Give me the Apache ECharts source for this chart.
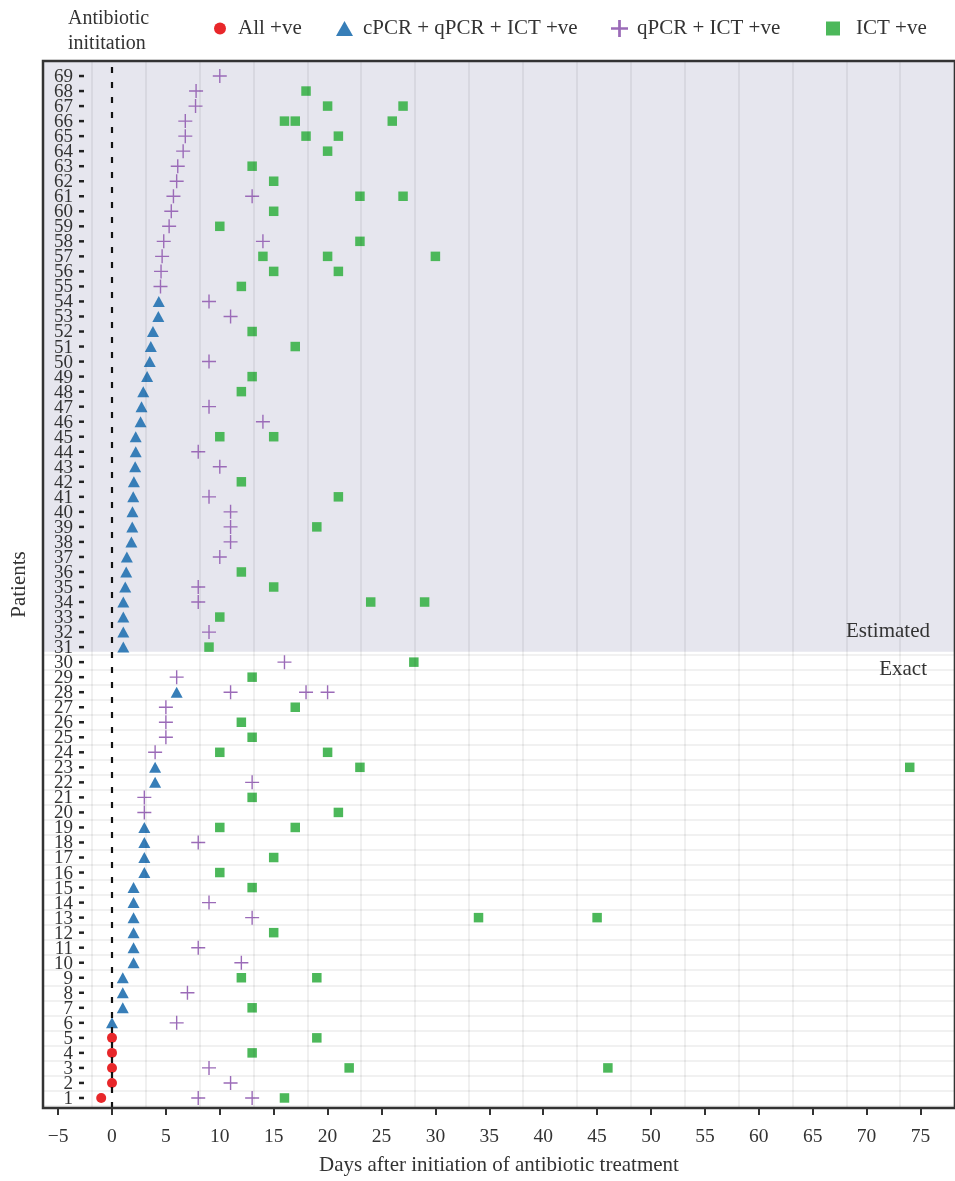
<!DOCTYPE html>
<html><head><meta charset="utf-8">
<script src="https://cdn.jsdelivr.net/npm/echarts@6/dist/echarts.min.js"></script>
<style>html,body{margin:0;padding:0;background:#fff}#c{width:955px;height:1181px}</style>
</head><body><div id="c"></div>
<script>
// ---------- data ----------
const patients = ['1','2','3','4','5','6','7','8','9','10','11','12','13','14','15','16','17','18','19','20',
  '21','22','23','24','25','26','27','28','29','30','31','32','33','34','35','36','37','38','39','40',
  '41','42','43','44','45','46','47','48','49','50','51','52','53','54','55','56','57','58','59','60',
  '61','62','63','64','65','66','67','68','69'];
const xTicks = [-5,0,5,10,15,20,25,30,35,40,45,50,55,60,65,70,75];
const antibioticStart = 0;
const estimatedFrom = 31;            // patients 31..69 have estimated dates
const groupLabels = ['Exact', 'Estimated'];
const seriesNames = ['All +ve', 'cPCR + qPCR + ICT +ve', 'qPCR + ICT +ve', 'ICT +ve'];

// [patient, day]
const allPositive = [[1,-1],[2,0],[3,0],[4,0],[5,0]];
const cpcrQpcrIct = [[6,0],[7,1],[8,1],[9,1],[10,2],[11,2],[12,2],[13,2],[14,2],[15,2],
  [16,3],[17,3],[18,3],[19,3],[22,4],[23,4],[28,6],
  [31,1.05],[32,1.05],[33,1.05],[34,1.05],[35,1.23],[36,1.32],[37,1.38],[38,1.8],[39,1.88],[40,1.9],
  [41,1.97],[42,2.03],[43,2.15],[44,2.2],[45,2.2],[46,2.65],[47,2.74],[48,2.9],[49,3.26],[50,3.5],
  [51,3.6],[52,3.8],[53,4.3],[54,4.34]];
const qpcrIct = [[1,8],[1,13],[2,11],[3,9],[6,6],[8,7],[10,12],[11,8],[13,13],[14,9],[18,8],
  [20,3],[21,3],[22,13],[24,4],[25,5],[26,5],[27,5],[28,11],[28,18],[28,20],[29,6],[30,16],
  [32,9],[34,8],[35,8],[37,10],[38,11],[39,11],[40,11],[41,9],[43,10],[44,8],[46,14],[47,9],
  [50,9],[53,11],[54,9],[55,4.5],[56,4.55],[57,4.65],[58,4.8],[58,14],[59,5.3],[60,5.5],[61,5.7],
  [61,13],[62,6.0],[63,6.1],[64,6.6],[65,6.8],[66,6.8],[67,7.75],[68,7.8],[69,10]];
const ictOnly = [[1,16],[3,22],[3,46],[4,13],[5,19],[7,13],[9,12],[9,19],[12,15],[13,34],[13,45],
  [15,13],[16,10],[17,15],[19,10],[19,17],[20,21],[21,13],[23,23],[23,74],[24,10],[24,20],[25,13],
  [26,12],[27,17],[29,13],[30,28],[31,9],[33,10],[34,24],[34,29],[35,15],[36,12],[39,19],[41,21],
  [42,12],[45,10],[45,15],[48,12],[49,13],[51,17],[52,13],[55,12],[56,15],[56,21],[57,14],[57,20],
  [57,30],[58,23],[59,10],[60,15],[61,23],[61,27],[62,15],[63,13],[64,20],[65,18],[65,21],[66,16],
  [66,17],[66,26],[67,20],[67,27],[68,18]];

// ---------- layout / style ----------
const FONT = "'Liberation Serif','Times New Roman',serif";
const TXT = '#333333';
const xMin = -6.4, xMax = 78.2;
const gridlineOffset = 3.12;   // the panel's vertical grid lines sit 1.88 days left of each tick
const gLeft = 43, gRight = -4.5;
const frameTop = 61, frameHeight = 1052;
const nRows = patients.length;
const rowH = frameHeight / (nRows + 1);
const dataTop = frameTop + rowH * 0.5;
const dataHeight = rowH * nRows;
const GRIDLINE = 'rgba(0,0,0,0.075)';
const PLUS = 'path://M-1,-0.1 L-0.1,-0.1 L-0.1,-1 L0.1,-1 L0.1,-0.1 L1,-0.1 L1,0.1 L0.1,0.1 L0.1,1 L-0.1,1 L-0.1,0.1 L-1,0.1 Z';
const PLUS_BOLD = 'path://M-1,-0.16 L-0.16,-0.16 L-0.16,-1 L0.16,-1 L0.16,-0.16 L1,-0.16 L1,0.16 L0.16,0.16 L0.16,1 L-0.16,1 L-0.16,0.16 L-1,0.16 Z';
const colors = ['#e8272a', '#377eb8', '#9b6bb8', '#4cb85a'];
const toPts = arr => arr.map(([p, d]) => [d, String(p)]);
const gridlineValues = xTicks.map(t => t + gridlineOffset - 5).concat([xTicks[xTicks.length - 1] + gridlineOffset]);

const legendCfg = [
  {name: seriesNames[0], left: 214, w: 12, h: 12, pad: 7, icon: 'circle'},
  {name: seriesNames[1], left: 336, w: 17, h: 15, pad: 5, icon: 'triangle'},
  {name: seriesNames[2], left: 611, w: 17, h: 17, pad: 4, icon: PLUS_BOLD},
  {name: seriesNames[3], left: 826, w: 14, h: 14, pad: 11, icon: 'rect'}
];

const chart = echarts.init(document.getElementById('c'), null, {renderer: 'canvas'});
const option = {
  animation: false,
  backgroundColor: '#ffffff',
  textStyle: {fontFamily: FONT},
  title: {
    text: 'Antibiotic\ninititation', left: 68, top: 6, padding: 0,
    textStyle: {fontFamily: FONT, fontSize: 20, fontWeight: 'normal', color: TXT, lineHeight: 25}
  },
  legend: legendCfg.map(c => ({
    data: [{name: c.name, icon: c.icon}], left: c.left, top: 18, padding: 0,
    itemWidth: c.w, itemHeight: c.h, selectedMode: false,
    textStyle: {fontFamily: FONT, fontSize: 21, color: TXT, padding: [0, 0, 0, c.pad]}
  })),
  grid: [
    {left: gLeft, right: gRight, top: dataTop, height: dataHeight, show: false},
    {left: gLeft, right: gRight, top: frameTop, height: frameHeight, show: true, z: 10,
     backgroundColor: 'rgba(0,0,0,0)', borderColor: '#333333', borderWidth: 2.5}
  ],
  xAxis: [
    {gridIndex: 0, type: 'value', min: xMin, max: xMax, show: false},
    {gridIndex: 1, type: 'value', min: xMin, max: xMax, position: 'bottom', z: 11,
     axisLine: {show: false}, splitLine: {show: false},
     axisTick: {show: true, length: 7, customValues: xTicks, lineStyle: {color: '#333', width: 2}},
     axisLabel: {customValues: xTicks, margin: 19, fontFamily: FONT, fontSize: 19.5, color: TXT,
       formatter: v => v < 0 ? '\u2212' + Math.abs(v) : String(v)},
     name: 'Days after initiation of antibiotic treatment', nameLocation: 'middle', nameGap: 47,
     nameMoveOverlap: false,
     nameTextStyle: {fontFamily: FONT, fontSize: 21, color: TXT}}
  ],
  yAxis: [
    {gridIndex: 0, type: 'category', data: patients, boundaryGap: true, z: 1,
     axisLine: {show: false}, axisTick: {show: false},
     splitLine: {show: true, interval: 0, lineStyle: {color: GRIDLINE, width: 1.6}},
     axisLabel: {inside: true, align: 'right', margin: 41, interval: 0, color: TXT,
       fontFamily: FONT, fontSize: 19,
       formatter: v => '{n|' + v + '}{t|}',
       rich: {
         n: {fontFamily: FONT, fontSize: 19, color: TXT, padding: [2, 6, 0, 0]},
         t: {width: 5, height: 2.5, backgroundColor: '#222222'}
       }}},
    {gridIndex: 1, type: 'value', min: 0, max: nRows + 1,
     axisLine: {show: false}, axisTick: {show: false}, axisLabel: {show: false}, splitLine: {show: false},
     name: 'Patients', nameLocation: 'middle', nameGap: 13, nameRotate: 90, nameMoveOverlap: false,
     nameTextStyle: {fontFamily: FONT, fontSize: 21, color: TXT}}
  ],
  series: [
    {
      type: 'scatter', xAxisIndex: 1, yAxisIndex: 1, data: [], z: 0, silent: true,
      markArea: {
        silent: true,
        data: [
          [{name: groupLabels[1], xAxis: xMin, yAxis: estimatedFrom - 0.5,
            itemStyle: {color: '#e6e6ee'},
            label: {show: true, position: 'insideBottomRight', distance: 0, offset: [-25, -10],
              fontFamily: FONT, fontSize: 21, color: TXT}},
           {xAxis: xMax, yAxis: nRows + 1}],
          [{name: groupLabels[0], xAxis: xMin, yAxis: 0,
            itemStyle: {color: 'rgba(255,255,255,0)'},
            label: {show: true, position: 'insideTopRight', distance: 0, offset: [-28, 7],
              fontFamily: FONT, fontSize: 21, color: TXT}},
           {xAxis: xMax, yAxis: estimatedFrom - 0.5}]
        ]
      }
    },
    {
      type: 'scatter', xAxisIndex: 1, yAxisIndex: 1, data: [], z: 1, silent: true,
      markLine: {
        silent: true, symbol: ['none', 'none'], label: {show: false},
        lineStyle: {color: GRIDLINE, width: 1.6, type: 'solid'},
        data: gridlineValues.map(v => ({xAxis: v}))
      }
    },
    {
      name: seriesNames[0], type: 'scatter', xAxisIndex: 0, yAxisIndex: 0, z: 3,
      symbol: 'circle', symbolSize: 10, itemStyle: {color: colors[0], opacity: 1},
      data: toPts(allPositive)
    },
    {
      name: seriesNames[1], type: 'scatter', xAxisIndex: 0, yAxisIndex: 0, z: 3,
      symbol: 'triangle', symbolSize: [12, 11], itemStyle: {color: colors[1], opacity: 1},
      data: toPts(cpcrQpcrIct)
    },
    {
      name: seriesNames[2], type: 'scatter', xAxisIndex: 0, yAxisIndex: 0, z: 3,
      symbol: PLUS, symbolSize: 14, itemStyle: {color: colors[2], opacity: 1},
      data: toPts(qpcrIct)
    },
    {
      name: seriesNames[3], type: 'scatter', xAxisIndex: 0, yAxisIndex: 0, z: 3,
      symbol: 'rect', symbolSize: 9.5, itemStyle: {color: colors[3], opacity: 1},
      data: toPts(ictOnly)
    },
    {
      type: 'scatter', xAxisIndex: 1, yAxisIndex: 1, data: [], z: 4, silent: true,
      markLine: {
        silent: true, symbol: ['none', 'none'], label: {show: false},
        lineStyle: {color: '#111111', width: 2.2, type: [6, 9]},
        data: [{xAxis: antibioticStart}]
      }
    }
  ]
};
chart.setOption(option);
</script>
</body></html>
